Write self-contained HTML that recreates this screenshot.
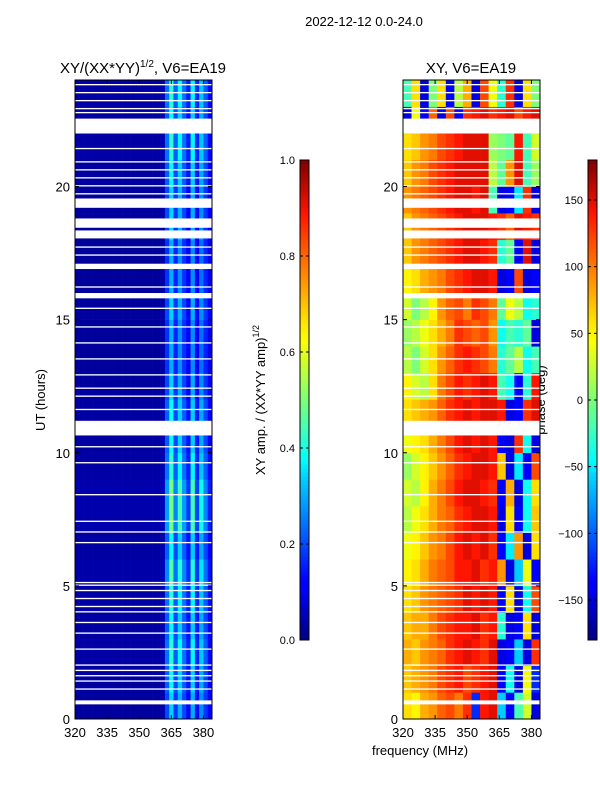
<!DOCTYPE html>
<html><head><meta charset="utf-8"><style>
body{margin:0;background:#fff;}
svg text{font-family:"Liberation Sans",sans-serif;}
</style></head><body>
<svg id="fig" width="600" height="800" viewBox="0 0 600 800" xmlns="http://www.w3.org/2000/svg">
<rect width="600" height="800" fill="#fff"/>
<text x="364" y="26" font-size="13" text-anchor="middle">2022-12-12 0.0-24.0</text>
<text x="143" y="73" font-size="15" text-anchor="middle">XY/(XX*YY)<tspan font-size="10" dy="-6">1/2</tspan><tspan dy="6">, V6=EA19</tspan></text>
<text x="471" y="73" font-size="15" text-anchor="middle">XY, V6=EA19</text>
<text transform="translate(45,400) rotate(-90)" font-size="13" text-anchor="middle">UT (hours)</text>
<text x="420" y="755" font-size="13" text-anchor="middle">frequency (MHz)</text>
<text transform="translate(265,400) rotate(-90)" font-size="13" text-anchor="middle">XY amp. / (XX*YY amp)<tspan font-size="9" dy="-6">1/2</tspan></text>
<text transform="translate(545,400) rotate(-90)" font-size="13" text-anchor="middle">phase (deg)</text>
<g id="left"></g><g id="right"></g><g id="cb1"></g><g id="cb2"></g>
</svg>
<script>
// ---- data ----
const hours = Array.from({length:24},(_,i)=>i);
const ampFreqs = Array.from({length:32},(_,i)=>320+2*i);
const ampBase = [0.03,0.03,0.03,0.03,0.03,0.03,0.03,0.03,0.03,0.03,0.03,0.03,0.03,0.03,0.03,0.03,0.03,0.03,0.03,0.03,0.04,0.22,0.38,0.2,0.34,0.22,0.14,0.34,0.15,0.3,0.2,0.12];
const ampRowFactor = [0.9,1.0,1.1,1.0,1.1,1.2,1.0,1.3,1.3,1.1,1.0,1.0,0.9,0.8,0.8,0.9,0.8,0.8,0.9,0.9,1.0,1.1,1.0,1.1];
const phaseFreqs = Array.from({length:16},(_,i)=>320+4*i);
const phaseRows = [
[60,50,80,90,110,120,100,130,-120,140,150,-60,-140,-20,30,-150],
[70,80,90,100,120,130,140,120,130,140,150,-140,-40,-150,40,-120],
[80,70,90,100,110,130,140,150,140,130,150,-150,-140,-60,-150,130],
[70,80,80,100,120,130,140,140,150,130,140,-30,-150,-140,60,-150],
[60,70,90,100,110,120,130,150,140,150,140,-140,60,-150,-40,120],
[50,60,80,100,110,120,140,140,150,130,140,90,-150,-60,40,-140],
[40,50,70,90,100,120,140,150,140,150,130,-140,-50,90,-150,60],
[20,40,60,80,100,110,130,140,150,150,140,-150,60,-140,-40,70],
[30,20,50,80,100,120,140,150,150,140,130,-140,80,-150,-40,60],
[10,30,50,70,90,110,130,140,150,150,140,70,-150,-50,-140,120],
[40,50,60,80,100,120,140,150,140,150,140,-140,-150,130,-40,-150],
[60,70,80,90,110,130,140,150,140,150,150,140,-150,-140,130,150],
[50,30,20,60,100,120,140,130,140,150,140,-20,-40,-140,-30,140],
[20,0,30,60,90,110,130,140,130,120,100,-30,-10,20,-40,-20],
[10,20,40,60,80,100,130,120,110,120,90,-40,-20,-30,-10,-150],
[30,0,20,50,90,110,120,100,130,120,100,-10,40,20,-40,-30],
[50,60,80,90,100,120,130,140,150,150,140,-150,-140,120,-150,-140],
[70,90,100,110,120,130,140,150,150,140,130,-30,-10,-140,150,-150],
[70,90,100,110,120,130,140,150,150,150,140,130,110,150,140,130],
[90,100,110,120,130,140,150,150,140,150,-20,-150,-140,-50,130,-150],
[70,90,100,120,130,140,150,150,150,150,20,-10,90,150,-20,10],
[60,70,90,100,120,130,140,150,150,150,10,0,-10,140,-20,30],
[-150,40,-140,110,-150,120,-140,130,140,150,130,140,150,120,140,150],
[-20,60,-150,0,60,-140,20,80,-150,120,40,-30,130,-150,60,0]
];
const gapStart = [0.55,1.1,1.4,1.6,1.8,2.0,2.6,3.2,3.6,4.0,4.2,4.5,4.8,5.0,5.1,6.6,7.0,7.4,8.4,9.6,10.2,10.65,11.6,12.1,12.4,12.9,13.5,14.1,14.7,15.4,15.8,16.2,16.9,17.4,17.7,18.05,18.45,18.7,19.2,19.7,20.0,20.3,20.6,20.9,21.4,21.99,22.75,22.9,23.2,23.5,23.8];
const gapEnd   = [0.7,1.15,1.45,1.65,1.85,2.05,2.65,3.25,3.65,4.05,4.25,4.55,4.85,5.05,5.15,6.65,7.05,7.45,8.45,9.65,10.25,11.2,11.65,12.15,12.45,12.95,13.55,14.15,14.75,15.45,16.0,16.25,17.1,17.45,17.75,18.35,18.8,18.75,19.55,19.75,20.05,20.35,20.65,20.95,21.45,22.55,22.8,22.95,23.25,23.55,23.85];
const xTicks = [320,335,350,365,380];
const yTicks = [0,5,10,15,20];
const ampTicks = [0.0,0.2,0.4,0.6,0.8,1.0];
const phaseTicks = [-150,-100,-50,0,50,100,150];

// ---- helpers ----
const NS="http://www.w3.org/2000/svg";
function mk(tag,attrs,parent){const e=document.createElementNS(NS,tag);for(const k in attrs)e.setAttribute(k,attrs[k]);parent.appendChild(e);return e;}
const stops=[[0,[0,0,127]],[0.11,[0,0,255]],[0.125,[0,0,255]],[0.35,[0,220,255]],[0.375,[0,255,255]],[0.5,[124,255,121]],[0.625,[255,255,0]],[0.66,[255,230,0]],[0.89,[255,20,0]],[1,[127,0,0]]];
function jet(t){t=Math.max(0,Math.min(1,t));for(let i=1;i<stops.length;i++){if(t<=stops[i][0]){const a=stops[i-1],b=stops[i];const f=(t-a[0])/(b[0]-a[0]||1);const c=a[1].map((v,j)=>Math.round(v+(b[1][j]-v)*f));return `rgb(${c[0]},${c[1]},${c[2]})`;}}return 'rgb(127,0,0)';}
const Y0=719,Y1=80;
const yScale=h=>Y0-(h/24)*(Y0-Y1);
function xScaleFor(x0){return f=>x0+(f-320)/64*137;}

function panel(g,x0,name,freqs,df,valFn,cmapFn){
  const xs=xScaleFor(x0);
  
  
  hours.forEach((h,r)=>{freqs.forEach((f,c)=>{
    const y=yScale(h+1),hgt=yScale(h)-yScale(h+1);
    const cell=mk('rect',{x:xs(f),y:y,width:xs(f+df)-xs(f)+0.3,height:hgt+0.3,fill:cmapFn(valFn(r,c))},g);
    
    
  });});
  gapStart.forEach((s,i)=>{
    const gp=mk('rect',{x:x0,y:yScale(gapEnd[i]),width:137,height:Math.max(1,yScale(s)-yScale(gapEnd[i])),fill:'#fff'},g);
    
    
  });
  const fr=mk('rect',{x:x0,y:Y1,width:137,height:Y0-Y1,fill:'none',stroke:'#000','stroke-width':1},g);
  
  
  xTicks.forEach(t=>{const x=xs(t);
    mk('line',{x1:x,x2:x,y1:Y0,y2:Y0-4,stroke:'#000'},g);mk('line',{x1:x,x2:x,y1:Y1,y2:Y1+4,stroke:'#000'},g);
    const tl=mk('text',{x:x,y:Y0+18,'font-size':13,'text-anchor':'middle'},g);tl.textContent=t;
    
    });
  yTicks.forEach(t=>{const y=yScale(t);
    mk('line',{x1:x0,x2:x0+4,y1:y,y2:y,stroke:'#000'},g);mk('line',{x1:x0+137,x2:x0+133,y1:y,y2:y,stroke:'#000'},g);
    const tl=mk('text',{x:x0-5,y:y+5,'font-size':13,'text-anchor':'end'},g);tl.textContent=t;
    
    });
}
panel(document.getElementById('left'),75,'amplitude-heatmap',ampFreqs,2,(r,c)=>ampBase[c]*ampRowFactor[r],v=>jet(v));
panel(document.getElementById('right'),403,'phase-heatmap',phaseFreqs,4,(r,c)=>phaseRows[r][c],v=>jet((v+180)/360));

function colorbar(g,x,name,lo,hi,ticks,fmt){
  
  
  const top=160,bot=640,n=120;
  for(let i=0;i<n;i++){mk('rect',{x:x,y:bot-(i+1)*(bot-top)/n,width:9,height:(bot-top)/n+0.5,fill:jet((i+0.5)/n)},g);}
  mk('rect',{x:x,y:top,width:9,height:bot-top,fill:'none',stroke:'#000'},g);
  ticks.forEach(t=>{const y=bot-(t-lo)/(hi-lo)*(bot-top);
    mk('line',{x1:x,x2:x+3,y1:y,y2:y,stroke:'#000'},g);mk('line',{x1:x+9,x2:x+6,y1:y,y2:y,stroke:'#000'},g);
    const tl=mk('text',{x:x-5,y:y+4,'font-size':11,'text-anchor':'end'},g);tl.textContent=fmt(t);
    
    });
}
colorbar(document.getElementById('cb1'),300,'amp-colorbar',0,1,ampTicks,t=>t.toFixed(1));
colorbar(document.getElementById('cb2'),588,'phase-colorbar',-180,180,phaseTicks,t=>t<0?'\u2212'+(-t):String(t));
</script>
</body></html>
